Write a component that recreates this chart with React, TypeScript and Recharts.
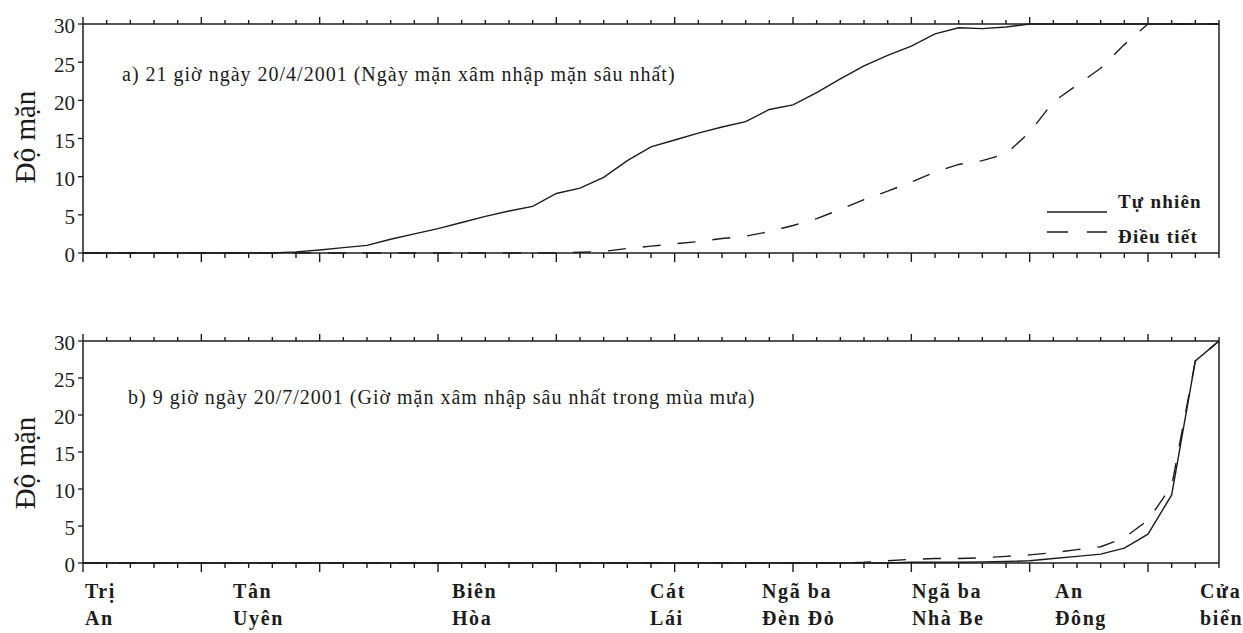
import React from 'react';
import { LineChart, Line, XAxis, YAxis } from 'recharts';

// x positions along the river (grid units, one per minor tick)
const positions = [0, 1, 2, 3, 4, 5, 6, 7, 8, 9, 10, 11, 12, 13, 14, 15, 16, 17, 18, 19, 20, 21, 22, 23, 24, 25, 26, 27, 28, 29, 30, 31, 32, 33, 34, 35, 36, 37, 38, 39, 40, 41, 42, 43, 44, 45, 46, 47, 48];

// Panel a) 21h 20/4/2001
const aNatural = [0, 0, 0, 0, 0, 0, 0, 0, 0, 0.15, 0.4, 0.7, 1.0, 1.8, 2.5, 3.2, 4.0, 4.8, 5.5, 6.1, 7.8, 8.5, 9.9, 12.1, 13.9, 14.8, 15.7, 16.5, 17.2, 18.8, 19.4, 21.0, 22.8, 24.5, 25.9, 27.1, 28.7, 29.5, 29.4, 29.6, 30, 30, 30, 30, 30, 30, 30, 30, 30];
const aRegulated = [0, 0, 0, 0, 0, 0, 0, 0, 0, 0, 0, 0, 0, 0, 0, 0, 0, 0, 0, 0, 0, 0.1, 0.2, 0.6, 0.9, 1.2, 1.5, 1.9, 2.2, 2.8, 3.6, 4.5, 5.7, 7.0, 8.1, 9.3, 10.6, 11.6, 12.1, 13.0, 15.8, 19.8, 22.0, 24.2, 27.3, 30, 30, 30, 30];

// Panel b) 9h 20/7/2001
const bNatural = [0, 0, 0, 0, 0, 0, 0, 0, 0, 0, 0, 0, 0, 0, 0, 0, 0, 0, 0, 0, 0, 0, 0, 0, 0, 0, 0, 0, 0, 0, 0, 0, 0, 0, 0, 0.1, 0.1, 0.1, 0.15, 0.2, 0.3, 0.6, 0.9, 1.2, 2.0, 3.9, 9.2, 27.3, 30];
const bRegulated = [0, 0, 0, 0, 0, 0, 0, 0, 0, 0, 0, 0, 0, 0, 0, 0, 0, 0, 0, 0, 0, 0, 0, 0, 0, 0, 0, 0, 0, 0, 0, 0, 0, 0.1, 0.3, 0.5, 0.6, 0.6, 0.7, 0.9, 1.1, 1.4, 1.8, 2.2, 3.4, 5.8, 10.4, 27.3, 30];

const yTicks = [0, 5, 10, 15, 20, 25, 30];
const rightTicks = [5, 10, 15, 20, 25];
const stationLine1 = ['Trị', 'Tân', 'Biên', 'Cát', 'Ngã ba', 'Ngã ba', 'An', 'Cửa'];
const stationLine2 = ['An', 'Uyên', 'Hòa', 'Lái', 'Đèn Đỏ', 'Nhà Be', 'Đông', 'biển'];
const stationPos = [0.08, 6.34, 15.59, 23.96, 28.69, 35.03, 41.07, 47.2];
const seriesNames = ['Tự nhiên', 'Điều tiết'];
const yLabel = 'Độ mặn';
const titleA = 'a) 21 giờ ngày 20/4/2001 (Ngày mặn xâm nhập mặn sâu nhất)';
const titleB = 'b) 9 giờ ngày 20/7/2001 (Giờ mặn xâm nhập sâu nhất trong mùa mưa)';

const dataA = positions.map((u, i) => ({ u, nat: aNatural[i], reg: aRegulated[i] }));
const dataB = positions.map((u, i) => ({ u, nat: bNatural[i], reg: bRegulated[i] }));

const FONT = 'Liberation Serif';
const INK = '#1c1c1c';
const DASH = '18 17';

const BottomTick = (props: any) => {
  const { x, y, index } = props;
  const major = index % 5 === 0;
  return (
    <g>
      <line x1={x} x2={x} y1={y} y2={y + (major ? 9 : 5)} stroke={INK} strokeWidth={1.4} />
    </g>
  );
};
const TopTick = (props: any) => {
  const { x, y, index } = props;
  const major = index % 5 === 0;
  return (
    <g>
      <line x1={x} x2={x} y1={y} y2={y - (major ? 7 : 4)} stroke={INK} strokeWidth={1.4} />
    </g>
  );
};
const StationTick = (props: any) => {
  const { x, y, index } = props;
  return (
    <g>
      <text x={x} y={y + 25} fontFamily={FONT} fontWeight="bold" fontSize={20} letterSpacing={1.6} fill={INK}>
        {stationLine1[index]}
      </text>
      <text x={x} y={y + 52} fontFamily={FONT} fontWeight="bold" fontSize={20} letterSpacing={1.6} fill={INK}>
        {stationLine2[index]}
      </text>
    </g>
  );
};

const axisLine = { stroke: INK, strokeWidth: 1.5 };

const yLabelContent = (cy: number) => () => (
  <text
    x={25}
    y={cy}
    transform={`rotate(-90 25 ${cy})`}
    textAnchor="middle"
    dominantBaseline="central"
    fontFamily={FONT}
    fontSize={29}
    fill={INK}
  >
    {yLabel}
  </text>
);

const overlayA = () => (
  <g>
    <text x={122} y={81} fontFamily={FONT} fontSize={20} letterSpacing={1} fill={INK}>
      {titleA}
    </text>
    <line x1={1047} x2={1107} y1={212} y2={212} stroke={INK} strokeWidth={1.4} />
    <text x={1118} y={208} fontFamily={FONT} fontWeight="bold" fontSize={19} letterSpacing={1.2} fill={INK}>
      {seriesNames[0]}
    </text>
    <line x1={1047} x2={1107} y1={232} y2={232} stroke={INK} strokeWidth={1.4} strokeDasharray="21 19" />
    <text x={1118} y={243} fontFamily={FONT} fontWeight="bold" fontSize={19} letterSpacing={1.2} fill={INK}>
      {seriesNames[1]}
    </text>
  </g>
);

const overlayB = () => (
  <g>
    <text x={128} y={104} fontFamily={FONT} fontSize={20} letterSpacing={1} fill={INK}>
      {titleB}
    </text>
  </g>
);

const yTickStyle = { fontSize: 21, fill: INK, fontFamily: FONT, dy: 2 };

function Panel(props: { data: any[]; height: number; topH: number; bottomH: number; overlay: any; labelY: number; stations?: boolean }) {
  const { data, height, topH, bottomH, overlay, labelY, stations } = props;
  return (
    <LineChart width={1243} height={height} data={data} margin={{ top: 0, right: 0, bottom: 0, left: 0 }}>
      <XAxis type="number" dataKey="u" xAxisId="top" orientation="top" height={topH} domain={[0, 48]} ticks={positions} interval={0} minTickGap={-100} tickSize={0} tickMargin={0} tickLine={false} axisLine={axisLine} tick={TopTick} label={overlay} />
      <XAxis type="number" dataKey="u" xAxisId="bottom" orientation="bottom" height={bottomH} domain={[0, 48]} ticks={positions} interval={0} minTickGap={-100} tickSize={0} tickMargin={0} tickLine={false} axisLine={axisLine} tick={BottomTick} />
      {stations ? (
        <XAxis type="number" dataKey="u" xAxisId="stations" orientation="bottom" height={60} domain={[0, 48]} ticks={stationPos} interval={0} minTickGap={-100} tickSize={0} tickMargin={0} tickLine={false} axisLine={false} tick={StationTick} />
      ) : null}
      <YAxis yAxisId="left" width={83} domain={[0, 30]} ticks={yTicks} interval={0} tickSize={5} tickMargin={3} tick={yTickStyle} tickLine={{ stroke: INK, strokeWidth: 1.3 }} axisLine={axisLine} label={yLabelContent(labelY)} />
      <YAxis yAxisId="right" orientation="right" width={24} domain={[0, 30]} ticks={rightTicks} interval={0} tickSize={6} tickFormatter={() => ''} tickLine={{ stroke: INK, strokeWidth: 1.3 }} axisLine={axisLine} />
      <Line xAxisId="bottom" yAxisId="left" type="linear" dataKey="nat" name={seriesNames[0]} stroke={INK} strokeWidth={1.4} dot={false} isAnimationActive={false} />
      <Line xAxisId="bottom" yAxisId="left" type="linear" dataKey="reg" name={seriesNames[1]} stroke={INK} strokeWidth={1.4} strokeDasharray={DASH} dot={false} isAnimationActive={false} />
    </LineChart>
  );
}

export default function App() {
  return (
    <div style={{ position: 'absolute', left: 0, top: 0, width: 1243, height: 633, background: '#fff' }}>
      <div style={{ position: 'absolute', left: 0, top: 0 }}>
        <Panel data={dataA} height={270} topH={24} bottomH={17} overlay={overlayA} labelY={137} />
      </div>
      <div style={{ position: 'absolute', left: 0, top: 300 }}>
        <Panel data={dataB} height={333} topH={41} bottomH={10} overlay={overlayB} labelY={163} stations />
      </div>
    </div>
  );
}
